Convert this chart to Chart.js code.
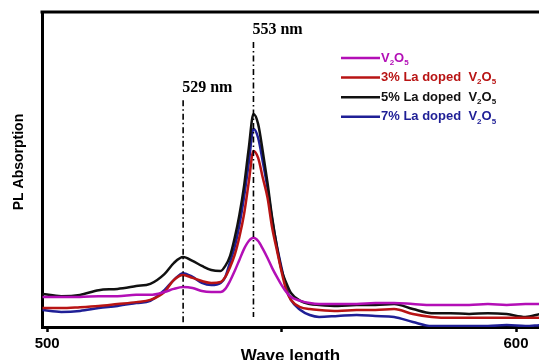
<!doctype html>
<html lang="en">
<head>
<meta charset="UTF-8">
<title>PL Absorption</title>
<script src="https://cdn.jsdelivr.net/npm/chart.js@4.4.0/dist/chart.umd.min.js"></script>
<style>
    html, body { margin: 0; padding: 0; background: #fff; }
    #wrap { width: 539px; height: 360px; }
</style>
</head>
<body>
<div id="wrap"><canvas id="myChart" width="539" height="360"></canvas></div>
<script>
// wavelength (nm) and PL intensity (arbitrary units, 0-100 of the frame height)
var wavelength = [499, 503, 507, 511, 515, 519, 522, 525, 527, 529,
                  531, 533, 535, 537, 538, 539, 540, 541, 542, 543,
                  544, 545, 546, 547, 548, 549, 550, 551, 552, 554,
                  556, 558, 562, 566, 570, 574, 578, 582, 586, 590,
                  594, 598, 602, 605];
var v2o5 = [9.5, 9.5, 9.5, 9.8, 9.8, 10.2, 10.2, 11.1, 12.1, 12.7,
            12.4, 11.4, 11.1, 11.1, 12.1, 14.6, 17.8, 21.3, 24.8, 27.3,
            28.3, 27.3, 24.8, 21.9, 18.7, 15.9, 13.3, 11.1, 9.5, 8.3,
            7.6, 7.3, 7.3, 7.3, 7.6, 7.6, 7.3, 7.0, 7.0, 7.0,
            7.3, 7.0, 7.3, 7.3];
var la3 = [6.0, 6.0, 6.3, 6.7, 7.3, 7.9, 8.6, 11.1, 14.9, 16.5,
           15.6, 14.6, 14.0, 14.3, 15.9, 19.0, 22.9, 28.6, 35.9, 46.0,
           55.9, 53.7, 47.3, 41.0, 31.4, 24.4, 17.5, 11.7, 8.6, 6.3,
           5.7, 5.4, 5.1, 5.4, 5.4, 5.7, 4.1, 3.2, 2.9, 2.9,
           2.9, 2.9, 2.9, 2.9];
var la5 = [10.5, 9.8, 10.2, 11.7, 12.1, 13.0, 13.7, 16.8, 20.3, 22.2,
           21.0, 19.4, 18.1, 17.8, 19.4, 22.5, 28.3, 35.6, 44.8, 56.8,
           67.6, 64.4, 55.6, 45.7, 34.6, 25.4, 18.1, 14.0, 10.8, 8.3,
           7.3, 7.0, 6.7, 7.0, 7.0, 7.3, 5.7, 4.4, 4.4, 4.1,
           4.4, 4.1, 3.2, 4.1];
var la7 = [5.4, 4.8, 5.1, 6.0, 6.7, 7.6, 8.3, 11.7, 14.9, 17.1,
           15.9, 14.0, 13.3, 14.0, 15.9, 20.6, 25.4, 32.4, 41.3, 52.1,
           62.9, 60.0, 52.4, 44.1, 34.0, 25.7, 18.7, 12.4, 8.6, 5.4,
           3.8, 3.2, 3.5, 3.8, 3.5, 3.2, 1.6, 0.3, 0.3, 0.3,
           0.3, 0.6, 0.3, 0.6];
var seriesNames = ['V\u2082O\u2085', '3% La doped  V\u2082O\u2085', '5% La doped  V\u2082O\u2085', '7% La doped  V\u2082O\u2085'];
var seriesColors = ['#b30fb6', '#b81414', '#111111', '#1f1f96'];

var xTicks = [500, 550, 600];
var xTickLabels = { 500: '500', 600: '600' };

// dash-dot marker lines: position, label, top and bottom (data units)
var markerX = [529, 544];
var markerLabels = ['529 nm', '553 nm'];
var markerTop = [72, 90.5];
var markerBottom = [1.3, 3.2];

function points(ys) {
    return wavelength.map(function (x, i) { return { x: x, y: ys[i] }; });
}

var SANS = '"Liberation Sans", Arial, sans-serif';

function drawRich(ctx, text, x, y, size) {
    // draws text, turning the subscript digits into small lowered glyphs
    for (var i = 0; i < text.length; i++) {
        var ch = text[i];
        if (ch === '\u2082' || ch === '\u2085') {
            ctx.font = 'bold ' + Math.round(size * 0.6) + 'px ' + SANS;
            var d = ch === '\u2082' ? '2' : '5';
            ctx.fillText(d, x, y + size * 0.35);
            x += ctx.measureText(d).width;
        } else {
            ctx.font = 'bold ' + size + 'px ' + SANS;
            ctx.fillText(ch, x, y);
            x += ctx.measureText(ch).width;
        }
    }
}

var extras = {
    id: 'extras',
    afterDraw: function (chart) {
        var ctx = chart.ctx;
        var area = chart.chartArea;
        var xs = chart.scales.x, ys = chart.scales.y;
        ctx.save();

        // top frame line
        ctx.strokeStyle = '#000';
        ctx.lineWidth = 3;
        ctx.beginPath();
        ctx.moveTo(area.left - 1.5, area.top);
        ctx.lineTo(area.right, area.top);
        ctx.stroke();

        // marker lines + labels
        for (var i = 0; i < markerX.length; i++) {
            var px = xs.getPixelForValue(markerX[i]);
            var top = ys.getPixelForValue(markerTop[i]);
            var bot = ys.getPixelForValue(markerBottom[i]);
            ctx.setLineDash([6, 3, 1.5, 3]);
            ctx.lineWidth = 1.6;
            ctx.strokeStyle = '#000';
            ctx.beginPath();
            ctx.moveTo(px, top);
            ctx.lineTo(px, bot);
            ctx.stroke();
            ctx.setLineDash([]);
            ctx.fillStyle = '#000';
            ctx.font = 'bold 16px "Liberation Serif", "Times New Roman", serif';
            ctx.textAlign = 'left';
            ctx.textBaseline = 'middle';
            ctx.fillText(markerLabels[i], px - 1, top - 12);
        }

        // legend
        var lx = 341, ly = 58;
        ctx.textAlign = 'left';
        ctx.textBaseline = 'middle';
        chart.data.datasets.forEach(function (ds, k) {
            var y = ly + k * 19.6;
            ctx.strokeStyle = ds.borderColor;
            ctx.lineWidth = 2.5;
            ctx.beginPath();
            ctx.moveTo(lx, y);
            ctx.lineTo(lx + 39, y);
            ctx.stroke();
            ctx.fillStyle = ds.borderColor;
            drawRich(ctx, ds.label, lx + 40, y, 13);
        });

        // y title
        ctx.translate(19.5, 162);
        ctx.rotate(-Math.PI / 2);
        ctx.fillStyle = '#000';
        ctx.font = 'bold 14px ' + SANS;
        ctx.textAlign = 'center';
        ctx.textBaseline = 'middle';
        ctx.fillText('PL Absorption', 0, 0);
        ctx.restore();
    }
};

var datasets = [v2o5, la3, la5, la7].map(function (ys, i) {
    return {
        label: seriesNames[i],
        data: points(ys),
        borderColor: seriesColors[i],
        backgroundColor: seriesColors[i],
        borderWidth: 2.5,
        pointRadius: 0,
        fill: false,
        cubicInterpolationMode: 'monotone'
    };
});

var ctx = document.getElementById('myChart').getContext('2d');
var chart = new Chart(ctx, {
    type: 'line',
    data: { datasets: datasets },
    options: {
        responsive: false,
        animation: false,
        devicePixelRatio: 1,
        layout: { padding: { top: 12, right: 0, bottom: 0, left: 0 } },
        plugins: {
            legend: { display: false },
            tooltip: { enabled: false }
        },
        scales: {
            x: {
                type: 'linear',
                min: 498.9,
                max: 604.9,
                afterBuildTicks: function (s) {
                    s.ticks = xTicks.map(function (v) { return { value: v }; });
                },
                afterFit: function (s) { s.height = 33; },
                ticks: {
                    callback: function (v) { return xTickLabels[v] || ''; },
                    font: { family: SANS, size: 15, weight: 'bold' },
                    color: '#000',
                    padding: 3,
                    maxRotation: 0,
                    autoSkip: false
                },
                grid: { drawOnChartArea: false, drawTicks: true, tickLength: 5, tickWidth: 2.5, tickColor: '#000' },
                border: { color: '#000', width: 3 },
                title: {
                    display: true,
                    text: 'Wave length',
                    color: '#000',
                    font: { family: SANS, size: 17, weight: 'bold' },
                    padding: { top: 0, bottom: -7 }
                }
            },
            y: {
                min: 0,
                max: 100,
                afterFit: function (s) { s.width = 42; },
                ticks: { display: false },
                grid: { display: false },
                border: { color: '#000', width: 3 }
            }
        }
    },
    plugins: [extras]
});
</script>
</body>
</html>
